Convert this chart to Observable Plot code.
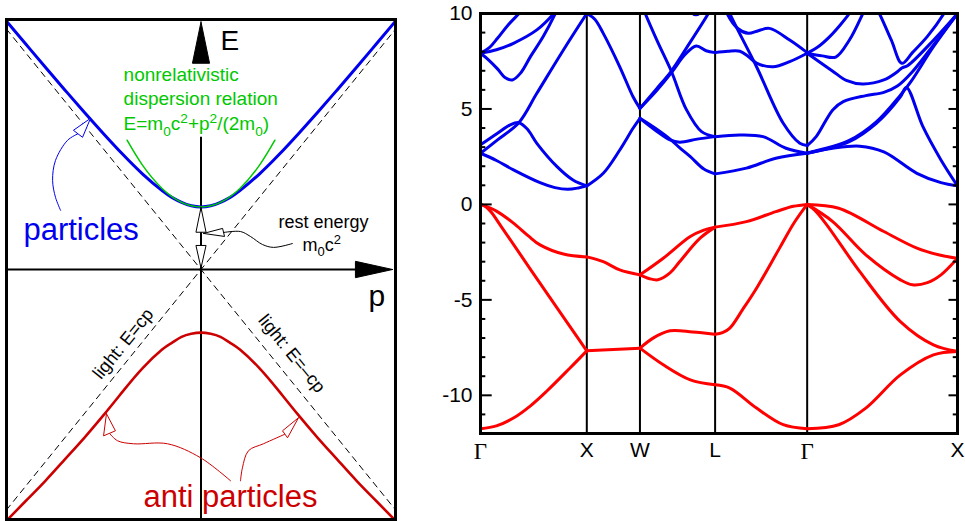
<!DOCTYPE html>
<html><head><meta charset="utf-8">
<script src="https://cdn.jsdelivr.net/npm/d3@7"></script>
<script src="https://cdn.jsdelivr.net/npm/@observablehq/plot@0.6"></script>
<style>
body{margin:0;background:#fff;}
#wrap{position:relative;width:965px;height:521px;overflow:hidden;}
#left{position:absolute;left:0;top:0;}
#right{position:absolute;left:420px;top:0;}
</style></head><body><div id="wrap"><div id="left"></div><div id="right"></div></div>
<script>
const FONT = "Liberation Sans, Arial, Helvetica, sans-serif";

// ---------- LEFT PANEL DATA (p, E) ----------
const leftP  = [-1,-0.9,-0.8,-0.7,-0.6,-0.5,-0.4,-0.3,-0.2,-0.15,-0.1,-0.05,0,0.05,0.1,0.15,0.2,0.3,0.4,0.5,0.6,0.7,0.8,0.9,1];
const blueE  = [1.033,0.937,0.841,0.747,0.654,0.564,0.477,0.397,0.328,0.300,0.279,0.265,0.26,0.265,0.279,0.300,0.328,0.397,0.477,0.564,0.654,0.747,0.841,0.937,1.033];
const redE   = [-1.045,-0.962,-0.879,-0.79,-0.70,-0.605,-0.505,-0.41,-0.333,-0.305,-0.28,-0.267,-0.2625,-0.267,-0.28,-0.305,-0.333,-0.41,-0.505,-0.605,-0.70,-0.79,-0.879,-0.962,-1.045];
const greenP = [-0.38,-0.3,-0.2,-0.1,0,0.1,0.2,0.3,0.38];
const greenE = [0.538,0.433,0.337,0.279,0.26,0.279,0.337,0.433,0.538];
const lightPlus  = [[-1,-1],[1,1]];
const lightMinus = [[-1,1],[1,-1]];

const eAxisArrow     = [[0,1.03],[-0.044,0.858],[0.044,0.858]];
const pAxisArrow     = [[0.985,0],[0.794,0.034],[0.794,-0.034]];
const restUpArrow    = [[0,0.258],[-0.026,0.155],[0.026,0.155]];
const restDownArrow  = [[0,0.006],[-0.026,0.1],[0.026,0.1]];
const restHead       = [[0.013,0.15],[0.111,0.171],[0.121,0.1375]];
const restTail       = [[0.116,0.154],[0.203,0.158],[0.254,0.1375],[0.316,0.104],[0.373,0.092],[0.47,0.108]];
const blueHead       = [[-0.568,0.629],[-0.656,0.579],[-0.609,0.55]];
const blueTail       = [[-0.632,0.565],[-0.686,0.5375],[-0.748,0.454],[-0.763,0.371],[-0.748,0.3],[-0.722,0.246]];
const redHeadL       = [[-0.486,-0.6],[-0.501,-0.692],[-0.44,-0.671]];
const redTailL       = [[-0.47,-0.682],[-0.429,-0.7125],[-0.347,-0.725],[-0.172,-0.725],[-0.0026,-0.783],[0.152,-0.879]];
const redHeadR       = [[0.501,-0.617],[0.419,-0.671],[0.445,-0.7]];
const redTailR       = [[0.432,-0.685],[0.321,-0.725],[0.244,-0.754],[0.213,-0.825],[0.203,-0.879]];

const leftLabels = ["E","p","nonrelativistic","dispersion relation","E=m0c2+p2/(2m0)","particles","anti particles","rest energy","m0c2","light: E=cp","light: E=–cp"];
const leftLabelAt = [[0.1,0.9125],[0.861,-0.15],[-0.398,0.783],[-0.398,0.683],[-0.398,0.579],[-0.913,0.121],[-0.296,-0.99],[0.398,0.171],[0.522,0.079],[-0.400,-0.309],[0.467,-0.350]];

// ---------- RIGHT PANEL DATA ----------
const kLabels = ["Γ","X","W","L","Γ","X"];
const kPos = [0,1,1.5,2.2071,3.0731,4.4873];
const eTicks = [-10,-5,0,5,10];
const eMinor = [-11,-9,-8,-7,-6,-4,-3,-2,-1,1,2,3,4,6,7,8,9];

// each band: [fraction along segment, E (eV)]
const val0 = [
 [[0,0],[0.15,-0.35],[0.31,-0.98],[0.45,-1.65],[0.56,-2.12],[0.78,-2.6],[1,-2.75]],
 [[0,0],[0.05,-0.12],[0.1,-0.4],[0.2,-1.2],[0.47,-3.4],[0.78,-5.9],[1,-7.67]],
 [[0,-11.75],[0.15,-11.6],[0.31,-11.19],[0.47,-10.55],[0.62,-9.8],[0.84,-8.58],[1,-7.67]]
];
const cond0 = [
 [[0,2.68],[0.15,2.3],[0.31,1.81],[0.56,1.14],[0.7,0.88],[0.82,0.79],[0.92,0.86],[1,0.97]],
 [[0,3.12],[0.16,3.73],[0.28,4.17],[0.36,4.28],[0.44,3.95],[0.53,3.2],[0.72,1.98],[0.87,1.28],[1,0.97]],
 [[0,2.68],[0.16,3.38],[0.36,4.28],[0.53,5.82],[0.78,8.09],[1,10]],
 [[0,7.92],[0.08,8.2],[0.16,8.7],[0.26,9.4],[0.36,10],[0.38,10.2]],
 [[0,7.92],[0.15,8.1],[0.31,8.44],[0.53,9.14],[0.69,10],[0.71,10.15]],
 [[0,7.92],[0.08,7.55],[0.16,7.1],[0.23,6.65],[0.3,6.52],[0.38,6.9],[0.47,7.74],[0.59,8.79],[0.7,9.95],[0.72,10.2]]
];
const val1 = [
 [[0,-2.75],[0.31,-3.0],[0.62,-3.43],[1,-3.69]],
 [[0,-7.67],[0.5,-7.6],[1,-7.53]]
];
const cond1 = [
 [[0,10],[0.15,9.7],[0.31,8.96],[0.62,7.21],[0.87,5.64],[1,5.03]],
 [[0,0.97],[0.31,1.63],[0.62,2.85],[0.87,3.99],[1,4.51]]
];
const val2 = [
 [[0,-3.69],[0.31,-2.82],[0.67,-1.68],[0.85,-1.35],[1,-1.19]],
 [[0,-3.69],[0.12,-3.88],[0.24,-3.95],[0.4,-3.59],[0.53,-2.99],[0.8,-1.77],[1,-1.19]],
 [[0,-7.53],[0.18,-6.99],[0.4,-6.62],[0.7,-6.68],[1,-6.8]],
 [[0,-7.53],[0.31,-8.4],[0.67,-9.19],[1,-9.45]]
];
const cond2 = [
 [[0,5.03],[0.22,5.95],[0.42,6.9],[0.6,7.85],[0.75,8.3],[0.88,8.05],[1,7.95]],
 [[0,5.03],[0.22,6.05],[0.42,7.0],[0.62,8.2],[0.91,10],[0.95,10.3]],
 [[0.04,10.3],[0.07,10],[0.24,8.47],[0.42,6.95],[0.62,4.95],[0.82,3.81],[1,3.55]],
 [[0,4.51],[0.2,3.9],[0.4,3.38],[0.53,3.26],[0.76,3.42],[1,3.55]],
 [[0,4.51],[0.2,4.0],[0.4,3.42],[0.53,2.96],[0.67,2.5],[0.85,1.85],[1,1.6]],
 [[0.64,10.3],[0.7,10.0],[0.745,9.93],[0.79,10.0],[0.85,10.3]]
];
const val3 = [
 [[0,-1.19],[0.34,-0.9],[0.66,-0.38],[0.85,-0.1],[1,0]],
 [[0,-6.8],[0.08,-6.72],[0.16,-6.48],[0.3,-5.5],[0.45,-4.39],[0.7,-2.29],[0.86,-0.95],[1,0]],
 [[0,-9.45],[0.16,-9.62],[0.45,-10.67],[0.74,-11.54],[1,-11.75]]
];
const cond3 = [
 [[0,1.6],[0.34,1.9],[0.66,2.42],[1,2.68]],
 [[0,3.55],[0.27,3.64],[0.52,3.55],[0.77,2.94],[1,2.68]],
 [[0.14,10.3],[0.16,10],[0.45,7.21],[0.74,4.25],[0.92,3.2],[1,3.08]],
 [[0,7.95],[0.14,8.02],[0.27,8.02],[0.36,7.75],[0.45,7.4],[0.63,7.21],[0.81,7.48],[1,7.92]],
 [[0.11,10.3],[0.13,10],[0.25,9.2],[0.36,8.96],[0.47,9.1],[0.59,9.22],[0.81,8.61],[1,7.95]]
];
const val4 = [
 [[0,0],[0.21,-0.2],[0.51,-1.42],[0.73,-2.29],[0.88,-2.65],[1,-2.82]],
 [[0,0],[0.17,-0.9],[0.39,-2.64],[0.62,-3.95],[0.7,-4.21],[0.8,-4.1],[0.89,-3.69],[1,-2.82]],
 [[0,0],[0.05,-0.3],[0.13,-1.07],[0.35,-3.52],[0.62,-6.14],[0.84,-7.36],[1,-7.7]],
 [[0,-11.75],[0.21,-11.54],[0.39,-10.67],[0.62,-8.93],[0.84,-7.88],[1,-7.7]]
];
const cond4 = [
 [[0,2.68],[0.17,2.94],[0.35,3.05],[0.51,2.75],[0.73,1.63],[0.89,1.14],[1,0.97]],
 [[0,2.68],[0.28,3.29],[0.46,4.25],[0.62,5.64],[0.66,6.13],[0.77,4.07],[0.89,2.33],[1,0.97]],
 [[0,2.7],[0.28,3.35],[0.46,4.32],[0.62,5.72],[0.69,6.43],[0.84,8.26],[1,10]],
 [[0,3.08],[0.06,3.55],[0.17,4.95],[0.24,5.38],[0.39,5.7],[0.51,5.87],[0.6,6.2],[0.7,6.95],[0.85,8.45],[1,10]],
 [[0,7.92],[0.17,6.98],[0.26,6.5],[0.37,6.31],[0.51,6.52],[0.6,6.95],[0.63,7.15],[0.67,7.28],[0.84,8.6],[1,10]],
 [[0,7.92],[0.08,8.3],[0.15,8.79],[0.22,9.4],[0.28,10],[0.3,10.3]],
 [[0,7.92],[0.1,7.78],[0.19,7.72],[0.28,8.6],[0.37,10],[0.39,10.35]],
 [[0.45,10.4],[0.48,10],[0.56,8.6],[0.63,7.39],[0.7,7.95],[0.8,8.8],[0.91,10],[0.93,10.3]]
];

// ---------- LEFT PANEL ----------
const BLUE = "#0000ee", RED_L = "#cc0000", GREEN = "#00c800";
const zip = (xs, ys) => xs.map((x, i) => [x, ys[i]]);
const closed = tri => [...tri, tri[0]];
const txt = (i, opts) => Plot.text([i], {x: j => leftLabelAt[j][0], y: j => leftLabelAt[j][1], text: j => leftLabels[j], ...opts});

const left = Plot.plot({
  width: 410, height: 521,
  marginLeft: 6, marginRight: 15, marginTop: 19, marginBottom: 2,
  x: {domain: [-1, 1], axis: null},
  y: {domain: [-1.04, 1.04], axis: null},
  style: {fontFamily: FONT, background: "white"},
  marks: [
    Plot.line(lightPlus, {stroke: "black", strokeWidth: 1, strokeDasharray: "6,5"}),
    Plot.line(lightMinus, {stroke: "black", strokeWidth: 1, strokeDasharray: "6,5"}),
    Plot.ruleY([0], {x1: -1, x2: 0.8, stroke: "black", strokeWidth: 2}),
    Plot.ruleX([0], {y1: -1.04, y2: 0.55, stroke: "black", strokeWidth: 2}),
    Plot.line(zip(leftP, blueE), {stroke: BLUE, strokeWidth: 3, curve: "natural", clip: true}),
    Plot.line(zip(greenP, greenE), {stroke: GREEN, strokeWidth: 1.5, curve: "natural"}),
    Plot.line(zip(leftP, redE), {stroke: RED_L, strokeWidth: 2.6, curve: "natural", clip: true}),
    Plot.line(closed(eAxisArrow), {fill: "black", stroke: "black", strokeWidth: 1}),
    Plot.line(closed(pAxisArrow), {fill: "black", stroke: "black", strokeWidth: 1}),
    Plot.line(closed(restUpArrow), {fill: "white", stroke: "black", strokeWidth: 1}),
    Plot.line(closed(restDownArrow), {fill: "white", stroke: "black", strokeWidth: 1}),
    Plot.line(restTail, {stroke: "black", strokeWidth: 1, curve: "catmull-rom"}),
    Plot.line(closed(restHead), {fill: "white", stroke: "black", strokeWidth: 1}),
    Plot.line(blueTail, {stroke: BLUE, strokeWidth: 1, curve: "catmull-rom"}),
    Plot.line(closed(blueHead), {fill: "white", stroke: BLUE, strokeWidth: 1}),
    Plot.line(redTailL, {stroke: RED_L, strokeWidth: 1, curve: "catmull-rom"}),
    Plot.line(closed(redHeadL), {fill: "white", stroke: RED_L, strokeWidth: 1}),
    Plot.line(redTailR, {stroke: RED_L, strokeWidth: 1, curve: "catmull-rom"}),
    Plot.line(closed(redHeadR), {fill: "white", stroke: RED_L, strokeWidth: 1}),
    txt(0, {fontSize: 28, textAnchor: "start", lineAnchor: "bottom", fill: "black"}),
    txt(1, {fontSize: 30, textAnchor: "start", lineAnchor: "bottom", fill: "black"}),
    txt(2, {fontSize: 19, textAnchor: "start", lineAnchor: "bottom", fill: GREEN}),
    txt(3, {fontSize: 19, textAnchor: "start", lineAnchor: "bottom", fill: GREEN}),
    txt(4, {fontSize: 19, textAnchor: "start", lineAnchor: "bottom", fill: GREEN}),
    txt(5, {fontSize: 31, textAnchor: "start", lineAnchor: "bottom", fill: BLUE}),
    txt(6, {fontSize: 31, textAnchor: "start", lineAnchor: "bottom", fill: RED_L}),
    txt(7, {fontSize: 18, textAnchor: "start", lineAnchor: "bottom", fill: "black"}),
    txt(8, {fontSize: 18, textAnchor: "start", lineAnchor: "bottom", fill: "black"}),
    txt(9, {fontSize: 18, textAnchor: "middle", lineAnchor: "middle", rotate: -51, fill: "black"}),
    txt(10, {fontSize: 18, textAnchor: "middle", lineAnchor: "middle", rotate: 51, fill: "black"}),
    Plot.frame({stroke: "black", strokeWidth: 3})
  ]
});

function rich(svg, match, parts, fs) {
  d3.select(svg).selectAll("text").filter(function () { return this.textContent === match; }).each(function () {
    const t = d3.select(this);
    t.selectAll("*").remove();
    t.text("");
    let shift = 0;
    for (const [s, kind] of parts) {
      const target = kind === "sub" ? fs * 0.3 : kind === "sup" ? -fs * 0.38 : 0;
      t.append("tspan").attr("dy", target - shift).attr("font-size", kind ? fs * 0.72 : fs).text(s);
      shift = target;
    }
  });
}
rich(left, "E=m0c2+p2/(2m0)", [["E=m",""],["0","sub"],["c",""],["2","sup"],["+p",""],["2","sup"],["/(2m",""],["0","sub"],[")",""]], 19);
rich(left, "m0c2", [["m",""],["0","sub"],["c",""],["2","sup"]], 18);
document.getElementById("left").appendChild(left);

// ---------- RIGHT PANEL ----------
const rows = [];
[[val0, cond0], [val1, cond1], [val2, cond2], [val3, cond3], [val4, cond4]].forEach(([val, cond], s) => {
  const k0 = kPos[s], k1 = kPos[s + 1];
  val.forEach((band, b) => band.forEach(([t, E]) => rows.push({k: k0 + t * (k1 - k0), E, id: `v${s}-${b}`, kind: "valence"})));
  cond.forEach((band, b) => band.forEach(([t, E]) => rows.push({k: k0 + t * (k1 - k0), E, id: `c${s}-${b}`, kind: "conduction"})));
});
const kMax = kPos[kPos.length - 1];

const right = Plot.plot({
  width: 545, height: 521,
  marginLeft: 60, marginRight: 8, marginTop: 13, marginBottom: 88,
  x: {domain: [0, kMax], label: null},
  y: {domain: [-12, 10], label: null},
  style: {fontFamily: FONT, background: "white"},
  marks: [
    Plot.ruleX(kPos.slice(1, -1), {stroke: "black", strokeWidth: 2}),
    Plot.line(rows, {x: "k", y: "E", z: "id", stroke: d => d.kind === "valence" ? "#ff0000" : "#0000ee", strokeWidth: 3, curve: "catmull-rom", clip: true}),
    Plot.ruleY(eTicks, {x1: 0, x2: 0.11, stroke: "black", strokeWidth: 2}),
    Plot.ruleY(eMinor, {x1: 0, x2: 0.05, stroke: "black", strokeWidth: 2}),
    Plot.ruleY(eTicks, {x1: kMax - 0.08, x2: kMax, stroke: "black", strokeWidth: 2}),
    Plot.ruleY(eMinor, {x1: kMax - 0.04, x2: kMax, stroke: "black", strokeWidth: 2}),
    Plot.frame({stroke: "black", strokeWidth: 3}),
    Plot.axisY(eTicks, {tickSize: 0, tickPadding: 8, fontSize: 21, tickFormat: d => String(d), label: null}),
    Plot.axisX(kPos, {tickSize: 0, tickPadding: 9, fontSize: 21, tickFormat: d => kLabels[kPos.indexOf(d)], label: null})
  ]
});
d3.select(right).selectAll("text").filter(function () { return this.textContent === "Γ"; })
  .attr("font-family", "Liberation Serif, Times New Roman, serif").attr("font-size", 23);
document.getElementById("right").appendChild(right);
</script>
</body></html>
